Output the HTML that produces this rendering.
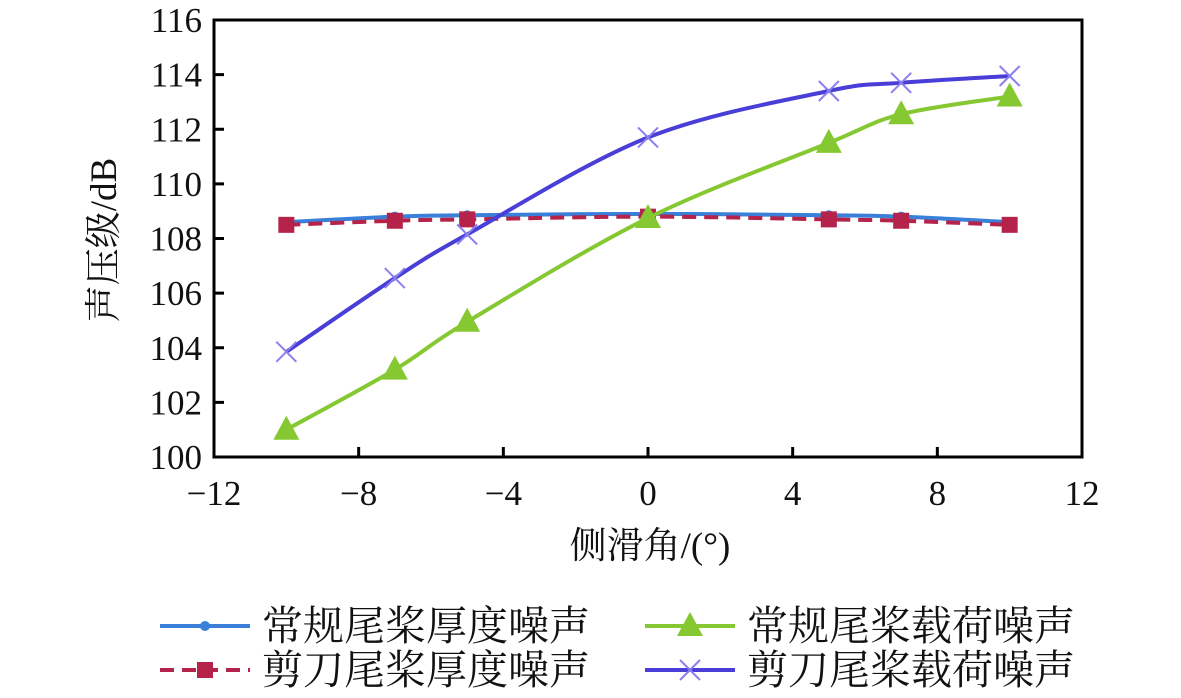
<!DOCTYPE html>
<html><head><meta charset="utf-8"><style>
html,body{margin:0;padding:0;background:#fff;}
svg{display:block;}
text{font-family:"Liberation Serif","Noto Serif CJK SC",serif;fill:#111;}
</style></head><body>
<svg id="chart" width="1181" height="698" viewBox="0 0 1181 698"></svg>
<script>
const categories=[-10,-7,-5,0,5,7,10];
const thickConv=[108.6,108.8,108.85,108.9,108.85,108.8,108.6];
const thickScissor=[108.5,108.65,108.7,108.8,108.7,108.65,108.5];
const loadConv=[101,103.2,104.95,108.75,111.5,112.55,113.2];
const loadScissor=[103.85,106.55,108.15,111.7,113.4,113.7,113.95];
const xTicks=[-12,-8,-4,0,4,8,12];
const yTicks=[100,102,104,106,108,110,112,114,116];
const xTickLabels=["\u221212","\u22128","\u22124","0","4","8","12"];

const svg=document.getElementById('chart');
const NS='http://www.w3.org/2000/svg';
const L=214,R=1082,T=20,B=457;
const sx=v=>L+(v+12)/24*(R-L);
const sy=v=>B-(v-100)/16*(B-T);
function mk(tag,attrs,parent){const e=document.createElementNS(NS,tag);for(const k in attrs)e.setAttribute(k,attrs[k]);(parent||svg).appendChild(e);return e;}
function smooth(pts){let d=`M${pts[0][0]},${pts[0][1]}`;for(let i=0;i<pts.length-1;i++){const p0=pts[i-1]||pts[i],p1=pts[i],p2=pts[i+1],p3=pts[i+2]||p2;const c1=[p1[0]+(p2[0]-p0[0])/6,p1[1]+(p2[1]-p0[1])/6],c2=[p2[0]-(p3[0]-p1[0])/6,p2[1]-(p3[1]-p1[1])/6];d+=` C${c1[0]},${c1[1]} ${c2[0]},${c2[1]} ${p2[0]},${p2[1]}`;}return d;}

const frame=mk('rect',{x:L,y:T,width:R-L,height:B-T,fill:'none',stroke:'#000','stroke-width':3});


xTicks.forEach((t,i)=>{
  const ln=mk('line',{x1:sx(t),x2:sx(t),y1:B,y2:B-10,stroke:'#000','stroke-width':3});
  
  
  const tx=mk('text',{x:sx(t),y:B+48,'font-size':35,'text-anchor':'middle'});
  tx.textContent=xTickLabels[i];
  
  
});
yTicks.forEach(t=>{
  const ln=mk('line',{x1:L,x2:L+10,y1:sy(t),y2:sy(t),stroke:'#000','stroke-width':3});
  
  
  const tx=mk('text',{x:L-12,y:sy(t)+12,'font-size':35,'text-anchor':'end'});
  tx.textContent=t;
  
  
});
const xt=mk('text',{x:650,y:558,'font-size':37,'text-anchor':'middle'});
xt.textContent='侧滑角/(°)';


const yt=mk('text',{x:0,y:0,'font-size':37,'text-anchor':'middle',transform:'translate(116,240) rotate(-90)'});
yt.textContent='声压级/dB';



function marker(g,type,x,y,color){
  if(type==='dot')return mk('circle',{cx:x,cy:y,r:5,fill:color},g);
  if(type==='square')return mk('rect',{x:x-8,y:y-8,width:16,height:16,fill:color},g);
  if(type==='tri')return mk('polygon',{points:`${x},${y-14} ${x+13},${y+10} ${x-13},${y+10}`,fill:color},g);
  return mk('path',{d:`M${x-10},${y-10}L${x+10},${y+10}M${x-10},${y+10}L${x+10},${y-10}`,stroke:'#8b7ff0','stroke-width':2},g);
}
const series=[
 {name:'series-thickness-conventional',vals:thickConv,color:'#3a7fd8',m:'dot',dash:''},
 {name:'series-thickness-scissor',vals:thickScissor,color:'#b5234a',m:'square',dash:'14 8'},
 {name:'series-load-conventional',vals:loadConv,color:'#86c832',m:'tri',dash:''},
 {name:'series-load-scissor',vals:loadScissor,color:'#4a3ed8',m:'x',dash:''}
];
series.forEach(s=>{
  const g=mk('g',{});
  
  
  const pts=categories.map((c,i)=>[sx(c),sy(s.vals[i])]);
  const p=mk('path',{d:smooth(pts),fill:'none',stroke:s.color,'stroke-width':4,'stroke-dasharray':s.dash},g);
  
  
  pts.forEach(pt=>{const m=marker(g,s.m,pt[0],pt[1],s.color);
    
    });
});
const leg=[
 {x:160,y:626,label:'常规尾桨厚度噪声',s:0},
 {x:160,y:670,label:'剪刀尾桨厚度噪声',s:1},
 {x:645,y:626,label:'常规尾桨载荷噪声',s:2},
 {x:645,y:670,label:'剪刀尾桨载荷噪声',s:3}
];
leg.forEach(l=>{
  const s=series[l.s];
  const g=mk('g',{});
  
  
  mk('line',{x1:l.x,x2:l.x+90,y1:l.y,y2:l.y,stroke:s.color,'stroke-width':4,'stroke-dasharray':s.dash},g);
  marker(g,s.m,l.x+45,l.y,s.color);
  const t=mk('text',{x:l.x+102,y:l.y+14,'font-size':41},g);
  t.textContent=l.label;
});
</script>
</body></html>
